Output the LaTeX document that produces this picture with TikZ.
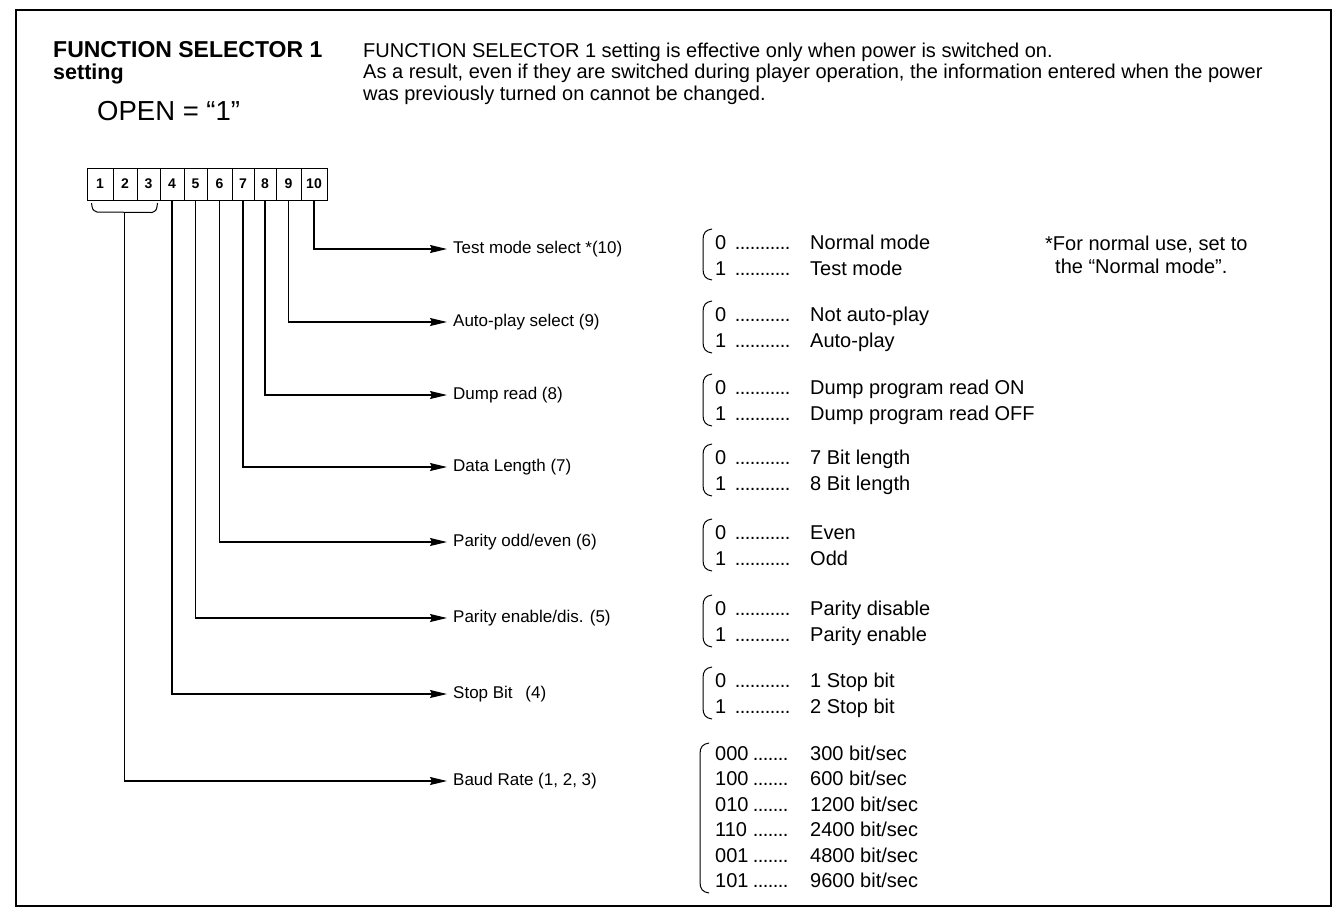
\documentclass[tikz,border=0pt]{standalone}
\usepackage{fontspec}
\setmainfont{Liberation Sans}
\usetikzlibrary{arrows.meta}
\newcommand\dotrun[1]{\hbox to #1pt{\leaders\hbox to 5pt{\hss.\hss}\hfill}}
% option rows: name, baseline, key, dots x, dots width, value
\newcommand\myoptrow[6]{%
  \node[opt] (#1k) at (715,#2) {#3};
  \node[opt] (#1d) at (#4,#2) {\dotrun{#5}};
  \node[opt] (#1v) at (810,#2) {#6};}
\newcommand\mybrack[3]{\draw[brk] ({#3+9},#1) .. controls ({#3+2.5},{#1+1}) and (#3,{#1+4}) .. (#3,{#1+11}) -- (#3,{#2-11}) .. controls (#3,{#2-4}) and ({#3+2.5},{#2-1}) .. ({#3+9},{#2});}
\begin{document}
\begin{tikzpicture}[x=1pt,y=-1pt,
  frame/.style={line width=1.8pt},
  cell/.style={draw, line width=1pt, minimum height=32pt, inner sep=0pt, font=\fontsize{14}{14}\selectfont\bfseries},
  wire/.style={line width=1.2pt},
  arr/.style={wire, -{Stealth[length=17pt,width=8pt,inset=2pt]}},
  lbl/.style={anchor=west, inner xsep=6pt, inner ysep=0pt, font=\fontsize{17}{18}\selectfont},
  opt/.style={anchor=base west, inner sep=0pt, font=\fontsize{20}{22}\selectfont},
  hdr/.style={anchor=base west, inner sep=0pt, font=\fontsize{20}{22}\selectfont},
  ttl/.style={anchor=base west, inner sep=0pt, font=\fontsize{23}{24}\selectfont\bfseries},
  brk/.style={line width=1pt},
]
\useasboundingbox (0,0) rectangle (1334,922);
\draw[frame] (16,10) rectangle (1331,906);

% titles
\node[ttl] (title) at (53,57) {FUNCTION SELECTOR 1};
\node[ttl, font=\fontsize{21.5}{22}\selectfont\bfseries] (setting) at (53,79) {setting};
\node[anchor=base west, inner sep=0pt, font=\fontsize{27.5}{28}\selectfont] (open) at (97,120) {OPEN = “1”};
\node[hdr] (h1) at (363,57) {FUNCTION SELECTOR 1 setting is effective only when power is switched on.};
\node[hdr] (h2) at (363,78) {As a result, even if they are switched during player operation, the information entered when the power};
\node[hdr] (h3) at (363,100) {was previously turned on cannot be changed.};

% switch cells
\foreach \n/\a/\b in {1/87/113, 2/113/137, 3/137/160, 4/160/184, 5/184/207, 6/207/232, 7/232/254, 8/254/276, 9/276/301, 10/301/327}
  \node[cell, minimum width={(\b-\a)*1pt}] (c\n) at ({(\a+\b)/2},184) {\n};

% bracket under 1-3
\draw[brk] (91.5,203) .. controls (92.5,210) .. (97,212) -- (152,212.5) .. controls (156.5,210.5) .. (157.5,203);
\coordinate (bk) at (124.5,212.3);

% labels
\node[lbl] (l10) at (447,249) {Test mode select *(10)};
\node[lbl] (l9) at (447,322) {Auto-play select (9)};
\node[lbl] (l8) at (447,395) {Dump read (8)};
\node[lbl] (l7) at (447,467) {Data Length (7)};
\node[lbl] (l6) at (447,542) {Parity odd/even (6)};
\node[lbl] (l5) at (447,618) {Parity enable/dis. (5)};
\node[lbl] (l4) at (447,694) {Stop Bit\hspace{8pt} (4)};
\node[lbl] (l123) at (447,781) {Baud Rate (1, 2, 3)};

% connectors
\draw[arr] (c10.south) |- (l10.west);
\draw[arr] (c9.south) |- (l9.west);
\draw[arr] (c8.south) |- (l8.west);
\draw[arr] (c7.south) |- (l7.west);
\draw[arr] (c6.south) |- (l6.west);
\draw[arr] (c5.south) |- (l5.west);
\draw[arr] (c4.south) |- (l4.west);
\draw[arr] (bk) |- (l123.west);

\mybrack{229}{280}{703}
\myoptrow{ta}{249}{0}{735}{55}{Normal mode}
\myoptrow{tb}{275}{1}{735}{55}{Test mode}

\mybrack{301}{353}{703}
\myoptrow{aa}{321}{0}{735}{55}{Not auto-play}
\myoptrow{ab}{347}{1}{735}{55}{Auto-play}

\mybrack{374}{426}{703}
\myoptrow{da}{394}{0}{735}{55}{Dump program read ON}
\myoptrow{db}{420}{1}{735}{55}{Dump program read OFF}

\mybrack{444}{496}{703}
\myoptrow{la}{464}{0}{735}{55}{7 Bit length}
\myoptrow{lb}{490}{1}{735}{55}{8 Bit length}

\mybrack{519}{571}{703}
\myoptrow{pa}{539}{0}{735}{55}{Even}
\myoptrow{pb}{565}{1}{735}{55}{Odd}

\mybrack{595}{647}{703}
\myoptrow{ea}{615}{0}{735}{55}{Parity disable}
\myoptrow{eb}{641}{1}{735}{55}{Parity enable}

\mybrack{667}{719}{703}
\myoptrow{sa}{687}{0}{735}{55}{1 Stop bit}
\myoptrow{sb}{713}{1}{735}{55}{2 Stop bit}

\mybrack{743}{893}{700}
\myoptrow{ba}{760}{000}{753}{37}{300 bit/sec}
\myoptrow{bb}{785.5}{100}{753}{37}{600 bit/sec}
\myoptrow{bc}{811}{010}{753}{37}{1200 bit/sec}
\myoptrow{bd}{836.5}{110}{753}{37}{2400 bit/sec}
\myoptrow{be}{862}{001}{753}{37}{4800 bit/sec}
\myoptrow{bf}{887.5}{101}{753}{37}{9600 bit/sec}

% footnote
\node[opt] (fn1) at (1045,250) {*For normal use, set to};
\node[opt] (fn2) at (1055,273) {the “Normal mode”.};
\end{tikzpicture}
\end{document}
